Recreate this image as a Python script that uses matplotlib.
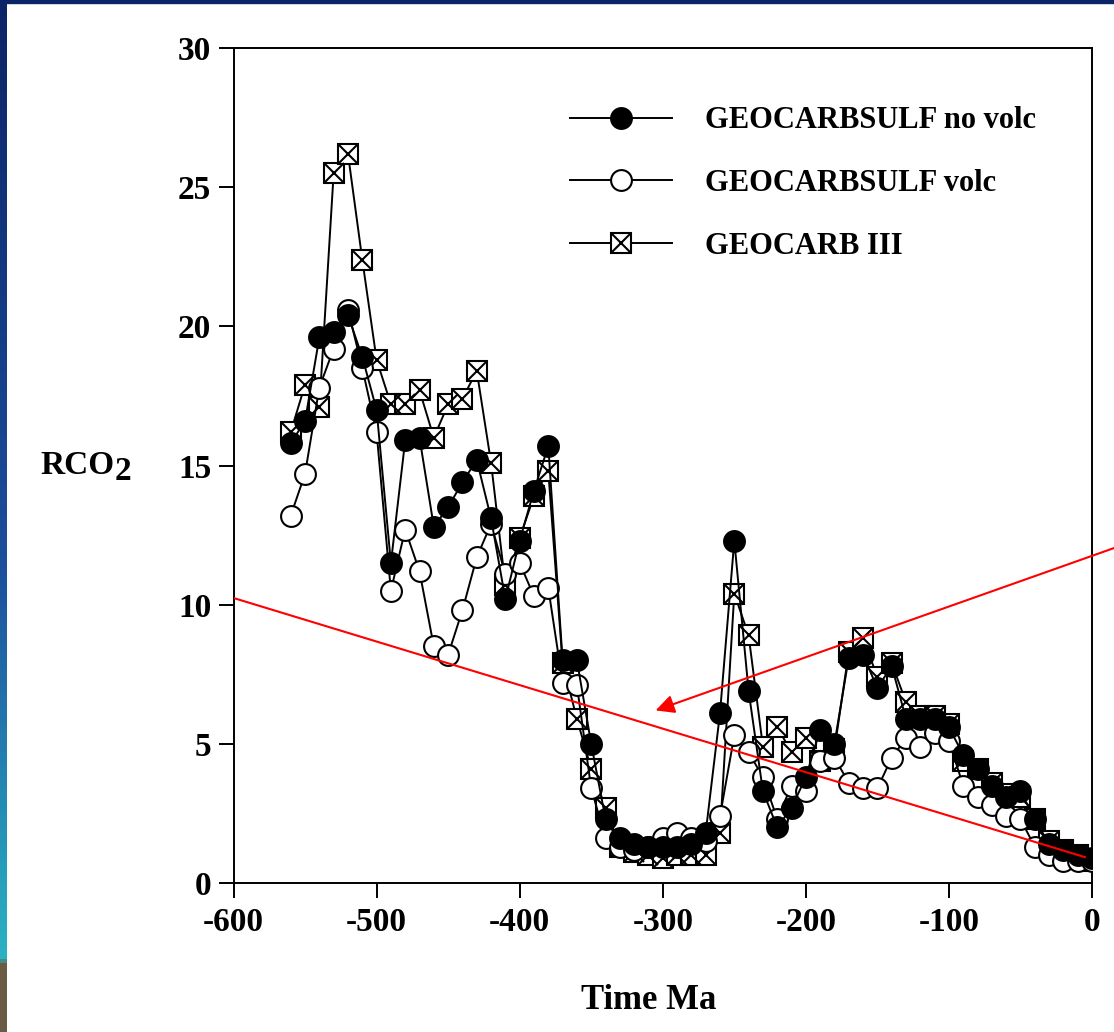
import numpy as np
import matplotlib
matplotlib.use("Agg")
import matplotlib.pyplot as plt
from matplotlib.colors import LinearSegmentedColormap
from matplotlib.patches import Rectangle

plt.rcParams['font.family'] = ['Liberation Serif', 'DejaVu Serif']
plt.rcParams['font.weight'] = 'bold'
plt.rcParams['axes.unicode_minus'] = False

# time (Ma) and RCO2
times = [-560, -550, -540, -530, -520, -510, -500, -490, -480, -470,
         -460, -450, -440, -430, -420, -410, -400, -390, -380, -370,
         -360, -350, -340, -330, -320, -310, -300, -290, -280, -270,
         -260, -250, -240, -230, -220, -210, -200, -190, -180, -170,
         -160, -150, -140, -130, -120, -110, -100, -90, -80, -70,
         -60, -50, -40, -30, -20, -10, 0]

no_volc = [15.8, 16.6, 19.6, 19.8, 20.4, 18.9, 17.0, 11.5, 15.9, 16.0,
           12.8, 13.5, 14.4, 15.2, 13.1, 10.2, 12.3, 14.1, 15.7, 8.0,
           8.0, 5.0, 2.3, 1.6, 1.4, 1.3, 1.3, 1.3, 1.4, 1.8,
           6.1, 12.3, 6.9, 3.3, 2.0, 2.7, 3.8, 5.5, 5.0, 8.1,
           8.2, 7.0, 7.8, 5.9, 5.9, 5.9, 5.6, 4.6, 4.1, 3.5,
           3.1, 3.3, 2.3, 1.4, 1.2, 1.0, 0.9]

volc = [13.2, 14.7, 17.8, 19.2, 20.6, 18.5, 16.2, 10.5, 12.7, 11.2,
        8.5, 8.2, 9.8, 11.7, 12.9, 11.1, 11.5, 10.3, 10.6, 7.2,
        7.1, 3.4, 1.6, 1.3, 1.2, 1.3, 1.6, 1.8, 1.6, 1.5,
        2.4, 5.3, 4.7, 3.8, 2.3, 3.5, 3.3, 4.4, 4.5, 3.6,
        3.4, 3.4, 4.5, 5.2, 4.9, 5.4, 5.1, 3.5, 3.1, 2.8,
        2.4, 2.3, 1.3, 1.0, 0.8, 0.8, 0.8]

geocarb3 = [16.2, 17.9, 17.1, 25.5, 26.2, 22.4, 18.8, 17.2, 17.2, 17.7,
            16.0, 17.2, 17.4, 18.4, 15.1, 10.7, 12.4, 13.9, 14.8, 7.9,
            5.9, 4.1, 2.7, 1.3, 1.1, 1.0, 0.9, 1.0, 1.0, 1.0,
            1.8, 10.4, 8.9, 4.9, 5.6, 4.7, 5.2, 4.4, 4.8, 8.3,
            8.8, 7.4, 7.9, 6.5, 6.0, 6.0, 5.7, 4.4, 4.1, 3.6,
            3.2, 3.1, 2.3, 1.5, 1.2, 1.0, 0.8]

labels = ['GEOCARBSULF no volc', 'GEOCARBSULF volc', 'GEOCARB III']
x_ticks = [-600, -500, -400, -300, -200, -100, 0]
y_ticks = [0, 5, 10, 15, 20, 25, 30]

# red annotation drawn over the chart
trend_x = [-600, -5]
trend_y = [10.24, 0.93]
arrow_tail = (30, 12.3)
arrow_head = (-305, 6.2)

fig = plt.figure(figsize=(11.14, 10.32), dpi=100)
fig.patch.set_facecolor('white')

# slide decoration: navy top bar and gradient strip on the left
fig.add_artist(Rectangle((0, 1 - 3 / 1032), 1, 3 / 1032, transform=fig.transFigure,
                         color='#0b2466', zorder=0))
strip = fig.add_axes([0, 0, 7 / 1114, 1])
cmap = LinearSegmentedColormap.from_list(
    'slide', [(0.0, '#0b2466'), (0.55, '#1c4f9c'), (0.93, '#2ab3c4'),
              (0.937, '#6b5b45'), (1.0, '#6b5b45')])
strip.imshow(np.linspace(0, 1, 256).reshape(-1, 1), aspect='auto', cmap=cmap)
strip.axis('off')

ax = fig.add_axes([233.5 / 1114, 1 - 883 / 1032, 858.5 / 1114, 835 / 1032])

ms = 15
mew = 1.5
lw = 1.4

# GEOCARB III: open square with a cross
sq, = ax.plot(times, geocarb3, color='black', lw=lw, marker='s', ms=ms,
              mfc='white', mec='black', mew=mew, zorder=2)
sx, = ax.plot(times, geocarb3, ls='none', marker='x', ms=ms, mec='black',
              mew=mew, zorder=2)
oc, = ax.plot(times, volc, color='black', lw=lw, marker='o', ms=ms,
              mfc='white', mec='black', mew=mew, zorder=3)
fc, = ax.plot(times, no_volc, color='black', lw=lw, marker='o', ms=ms,
              mfc='black', mec='black', mew=mew, zorder=4)

ax.plot(trend_x, trend_y, color='red', lw=1.5, zorder=5)
ax.annotate('', xy=arrow_head, xytext=arrow_tail, annotation_clip=False,
            arrowprops=dict(arrowstyle='-|>', color='red', lw=1.5,
                            mutation_scale=28, shrinkA=0, shrinkB=0), zorder=5)

ax.set_xlim(-600, 0)
ax.set_ylim(0, 30)
ax.set_xticks(x_ticks)
ax.set_yticks(y_ticks)
ax.tick_params(direction='out', length=11, width=1.4, labelsize=24)
ax.tick_params(axis='x', pad=6)
ax.tick_params(axis='y', pad=5)
for s in ax.spines.values():
    s.set_linewidth(1.4)

ax.set_xlabel('Time Ma', fontsize=25, fontweight='bold')
ax.xaxis.set_label_coords(0.484, -0.121)

# y label with a full-size, lowered subscript
fig.text(40 / 1114, 1 - 465 / 1032, 'RCO', fontsize=24, fontweight='bold',
         ha='left', va='center')
fig.text(115 / 1114, 1 - 472 / 1032, '2', fontsize=24, fontweight='bold',
         ha='left', va='center')

leg = ax.legend([fc, oc, (sq, sx)], labels, loc='upper left',
                bbox_to_anchor=(0.392, 0.930), frameon=False, fontsize=22,
                handlelength=3.33, handletextpad=1.08, labelspacing=1.1,
                borderpad=0, borderaxespad=0, numpoints=1)

fig.savefig('out.png', dpi=100, facecolor='white')
